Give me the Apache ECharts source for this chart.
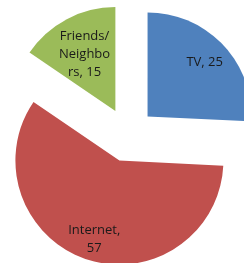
<!DOCTYPE html>
<html>
<head>
<meta charset="utf-8">
<script src="https://cdn.jsdelivr.net/npm/echarts@6/dist/echarts.min.js"></script>
<style>
  html, body { margin: 0; padding: 0; background: #fff; }
  #chart { width: 244px; height: 263px; }
</style>
</head>
<body>
<div id="chart"></div>
<script>
  const categories = ['TV', 'Internet', 'Friends/Neighbors'];
  const values = [25, 57, 15];
  const labelTexts = ['TV, 25', 'Internet,\n57', 'Friends/\nNeighbo\nrs, 15'];
  const colors = ['#4F81BD', '#C0504D', '#9BBB59'];
  // small nudges so labels sit where Excel's best-fit put them
  const labelNudges = [[0, 0], [0, 4], [6, 13]];

  const myChart = echarts.init(document.getElementById('chart'));

  const center = [128, 135];
  const radius = 104;
  const offset = 27;

  const sliceData = categories.map((name, i) => ({
    name: name,
    value: values[i],
    selected: true,
    itemStyle: { color: colors[i] },
  }));

  const labelData = categories.map((name, i) => ({
    name: name,
    value: values[i],
    selected: true,
    label: { formatter: labelTexts[i] },
  }));

  const options = {
    animation: false,
    series: [
      {
        type: 'pie',
        center: center,
        radius: [0, radius],
        startAngle: 90,
        selectedMode: 'multiple',
        selectedOffset: offset,
        silent: true,
        label: { show: false },
        labelLine: { show: false },
        emphasis: { disabled: true },
        data: sliceData,
      },
      {
        // transparent ring, only used to place the labels further out
        type: 'pie',
        center: center,
        radius: [radius * 0.46, radius],
        startAngle: 90,
        selectedMode: 'multiple',
        selectedOffset: offset,
        silent: true,
        itemStyle: { color: 'rgba(0,0,0,0)' },
        label: {
          show: true,
          position: 'inside',
          color: '#1a1a1a',
          fontFamily: 'Open Sans',
          fontSize: 13,
          lineHeight: 18,
          align: 'center',
        },
        labelLayout: (params) => ({
          dx: labelNudges[params.dataIndex][0],
          dy: labelNudges[params.dataIndex][1],
        }),
        labelLine: { show: false },
        emphasis: { disabled: true },
        data: labelData,
      },
    ],
  };

  myChart.setOption(options);
</script>
</body>
</html>
